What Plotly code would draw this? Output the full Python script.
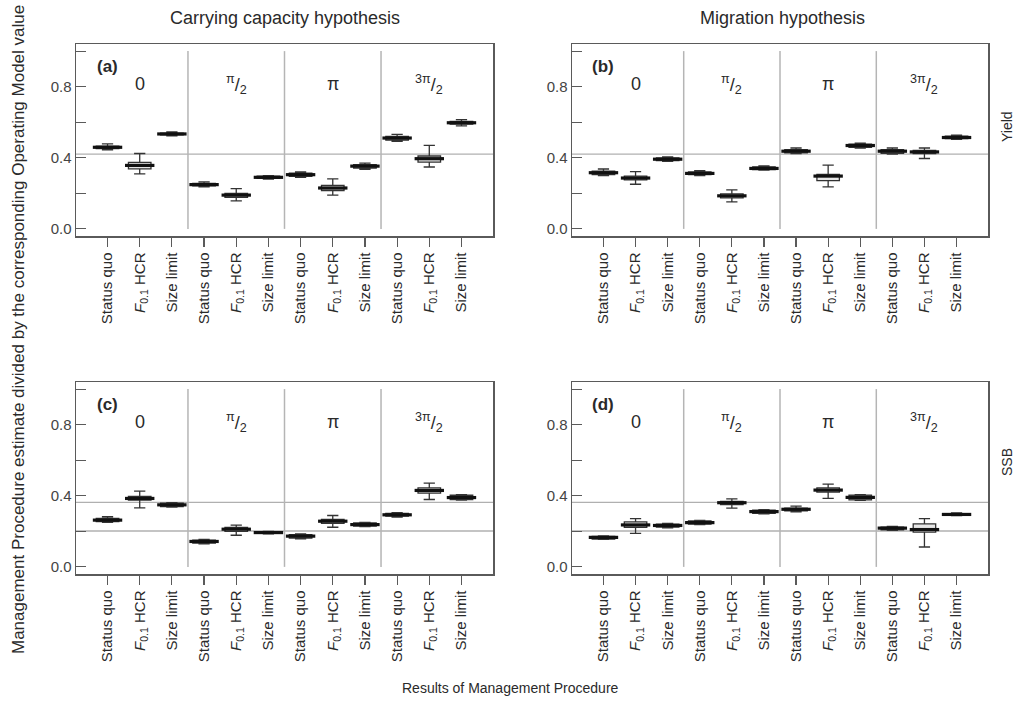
import plotly.graph_objects as go

W, H = 1018, 713

positions = list(range(1, 13))
methods = ["Status quo", "<i>F</i><sub>0.1</sub> HCR", "Size limit"]
tick_labels = methods * 4
group_labels = ["0", "<sup>π</sup>/<sub>2</sub>", "π", "<sup>3π</sup>/<sub>2</sub>"]
group_centers = [2, 5, 8, 11]
group_bounds = [3.5, 6.5, 9.5]

# (a) Yield, carrying capacity hypothesis
a_low = [0.445, 0.310, 0.524, 0.237, 0.158, 0.280, 0.290, 0.190, 0.335, 0.493, 0.348, 0.580]
a_q1 = [0.452, 0.338, 0.529, 0.242, 0.178, 0.284, 0.295, 0.216, 0.342, 0.499, 0.375, 0.589]
a_med = [0.459, 0.357, 0.534, 0.249, 0.190, 0.290, 0.305, 0.230, 0.353, 0.511, 0.395, 0.597]
a_q3 = [0.466, 0.374, 0.539, 0.256, 0.200, 0.296, 0.314, 0.245, 0.362, 0.520, 0.410, 0.605]
a_high = [0.478, 0.424, 0.545, 0.265, 0.227, 0.300, 0.320, 0.281, 0.370, 0.532, 0.470, 0.615]

# (b) Yield, migration hypothesis
b_low = [0.300, 0.251, 0.380, 0.300, 0.152, 0.330, 0.424, 0.236, 0.455, 0.420, 0.396, 0.503]
b_q1 = [0.306, 0.276, 0.384, 0.305, 0.174, 0.333, 0.428, 0.271, 0.459, 0.425, 0.424, 0.508]
b_med = [0.316, 0.286, 0.392, 0.312, 0.186, 0.340, 0.437, 0.297, 0.469, 0.437, 0.433, 0.514]
b_q3 = [0.325, 0.297, 0.399, 0.320, 0.197, 0.349, 0.446, 0.307, 0.477, 0.446, 0.442, 0.521]
b_high = [0.337, 0.322, 0.405, 0.328, 0.219, 0.355, 0.455, 0.359, 0.482, 0.455, 0.455, 0.527]

# (c) SSB, carrying capacity hypothesis
c_low = [0.250, 0.332, 0.336, 0.130, 0.178, 0.186, 0.158, 0.223, 0.226, 0.280, 0.379, 0.376]
c_q1 = [0.255, 0.376, 0.339, 0.134, 0.200, 0.188, 0.162, 0.245, 0.230, 0.285, 0.415, 0.378]
c_med = [0.263, 0.385, 0.349, 0.143, 0.212, 0.193, 0.173, 0.257, 0.238, 0.293, 0.430, 0.390]
c_q3 = [0.273, 0.396, 0.359, 0.151, 0.222, 0.198, 0.181, 0.267, 0.247, 0.301, 0.445, 0.403]
c_high = [0.282, 0.426, 0.362, 0.155, 0.235, 0.200, 0.185, 0.289, 0.250, 0.305, 0.471, 0.406]

# (d) SSB, migration hypothesis
d_low = [0.155, 0.188, 0.220, 0.238, 0.331, 0.298, 0.310, 0.385, 0.374, 0.206, 0.112, 0.288]
d_q1 = [0.157, 0.223, 0.224, 0.241, 0.351, 0.301, 0.315, 0.421, 0.377, 0.209, 0.195, 0.290]
d_med = [0.166, 0.236, 0.233, 0.249, 0.361, 0.311, 0.324, 0.432, 0.391, 0.218, 0.210, 0.295]
d_q3 = [0.172, 0.253, 0.241, 0.258, 0.368, 0.319, 0.330, 0.444, 0.404, 0.224, 0.242, 0.300]
d_high = [0.175, 0.272, 0.245, 0.262, 0.383, 0.322, 0.342, 0.465, 0.406, 0.228, 0.272, 0.303]

yield_ref = [0.42]
ssb_ref = [0.363, 0.202]

panels = [
    ("(a)", a_low, a_q1, a_med, a_q3, a_high, yield_ref),
    ("(b)", b_low, b_q1, b_med, b_q3, b_high, yield_ref),
    ("(c)", c_low, c_q1, c_med, c_q3, c_high, ssb_ref),
    ("(d)", d_low, d_q1, d_med, d_q3, d_high, ssb_ref),
]

# panel frames in pixels (left, right, top, bottom)
frames = [(76, 493, 44, 236), (572, 988, 44, 236), (76, 493, 382, 574), (572, 988, 382, 574)]

FONT = "Liberation Sans, Arial, sans-serif"
TXT = "#2a2a2a"
FRAME = "#5a5a5a"

fig = go.Figure()
layout = dict(
    width=W, height=H, margin=dict(l=0, r=0, t=0, b=0),
    paper_bgcolor="white", plot_bgcolor="white", showlegend=False,
    boxmode="overlay", font=dict(family=FONT, color=TXT, size=13),
    shapes=[], annotations=[],
)

for i, (lab, lo, q1, med, q3, hi, refs) in enumerate(panels):
    n = "" if i == 0 else str(i + 1)
    xa, ya = "x" + n, "y" + n
    l, r, t, b = frames[i]
    layout["xaxis" + n] = dict(
        domain=[l / W, r / W], range=[0.02, 12.98], anchor=ya,
        tickmode="array", tickvals=positions, ticktext=tick_labels, tickangle=-90,
        ticks="outside", ticklen=9, tickcolor=FRAME, tickwidth=1.2,
        showline=True, mirror=True, linecolor=FRAME, linewidth=1.5,
        showgrid=False, zeroline=False, fixedrange=True,
        tickfont=dict(family=FONT, size=15, color=TXT),
    )
    layout["yaxis" + n] = dict(
        domain=[1 - b / H, 1 - t / H], range=[-0.04, 1.04], anchor=xa,
        tickmode="array", tickvals=[0, 0.2, 0.4, 0.6, 0.8, 1.0],
        ticktext=["0.0", "", "0.4", "", "0.8", ""],
        ticks="inside", ticklen=10, tickcolor=FRAME, tickwidth=1.2,
        showline=True, mirror=True, linecolor=FRAME, linewidth=1.5,
        showgrid=False, zeroline=False, fixedrange=True,
        tickfont=dict(family=FONT, size=15, color="#444"),
    )
    for k in range(12):
        light = k % 3 == 1
        fig.add_trace(go.Box(
            x=[positions[k]], lowerfence=[lo[k]], q1=[q1[k]], median=[med[k]],
            q3=[q3[k]], upperfence=[hi[k]], width=0.7, whiskerwidth=0.5,
            fillcolor="#e6e6e6" if light else "#8a8a8a",
            line=dict(color="#333333", width=1.3),
            xaxis=xa, yaxis=ya, hoverinfo="skip", boxpoints=False,
        ))
    # thick medians
    fig.add_trace(go.Scatter(
        x=positions, y=med, mode="markers", xaxis=xa, yaxis=ya,
        marker=dict(symbol="line-ew", size=21, line=dict(color="#111111", width=3.2)),
        hoverinfo="skip",
    ))
    for gb in group_bounds:
        layout["shapes"].append(dict(
            type="line", xref=xa, yref=ya, x0=gb, x1=gb, y0=0, y1=1.0,
            line=dict(color="#b5b5b5", width=1.5), layer="below",
        ))
    for rv in refs:
        layout["shapes"].append(dict(
            type="line", xref=xa + " domain", yref=ya, x0=0, x1=1, y0=rv, y1=rv,
            line=dict(color="#b0b0b0", width=1.3), layer="below",
        ))
    for gc, gl in zip(group_centers, group_labels):
        layout["annotations"].append(dict(
            x=gc, y=0.815, xref=xa, yref=ya, text=gl, showarrow=False,
            font=dict(family=FONT, size=18, color=TXT),
        ))
    layout["annotations"].append(dict(
        x=1.0, y=0.915, xref=xa, yref=ya, text="<b>" + lab + "</b>", showarrow=False,
        font=dict(family=FONT, size=17, color=TXT),
    ))

extra = [
    dict(x=284.5 / W, y=1 - 18 / H, text="Carrying capacity hypothesis", textangle=0, size=18),
    dict(x=782 / W, y=1 - 18 / H, text="Migration hypothesis", textangle=0, size=18),
    dict(x=1007 / W, y=1 - 127 / H, text="Yield", textangle=-90, size=14),
    dict(x=1007 / W, y=1 - 462 / H, text="SSB", textangle=-90, size=14),
    dict(x=18 / W, y=1 - 330 / H,
         text="Management Procedure estimate divided by the corresponding Operating Model value",
         textangle=-90, size=17),
    dict(x=510 / W, y=1 - 688 / H, text="Results of Management Procedure", textangle=0, size=14),
]
for e in extra:
    layout["annotations"].append(dict(
        x=e["x"], y=e["y"], xref="paper", yref="paper", text=e["text"], textangle=e["textangle"],
        showarrow=False, xanchor="center", yanchor="middle",
        font=dict(family=FONT, size=e["size"], color=TXT),
    ))

fig.update_layout(**layout)
fig.write_html(
    "out.html",
    config={"displayModeBar": False, "staticPlot": True},
    post_script="document.body.style.margin='0';document.body.style.overflow='hidden';",
)
